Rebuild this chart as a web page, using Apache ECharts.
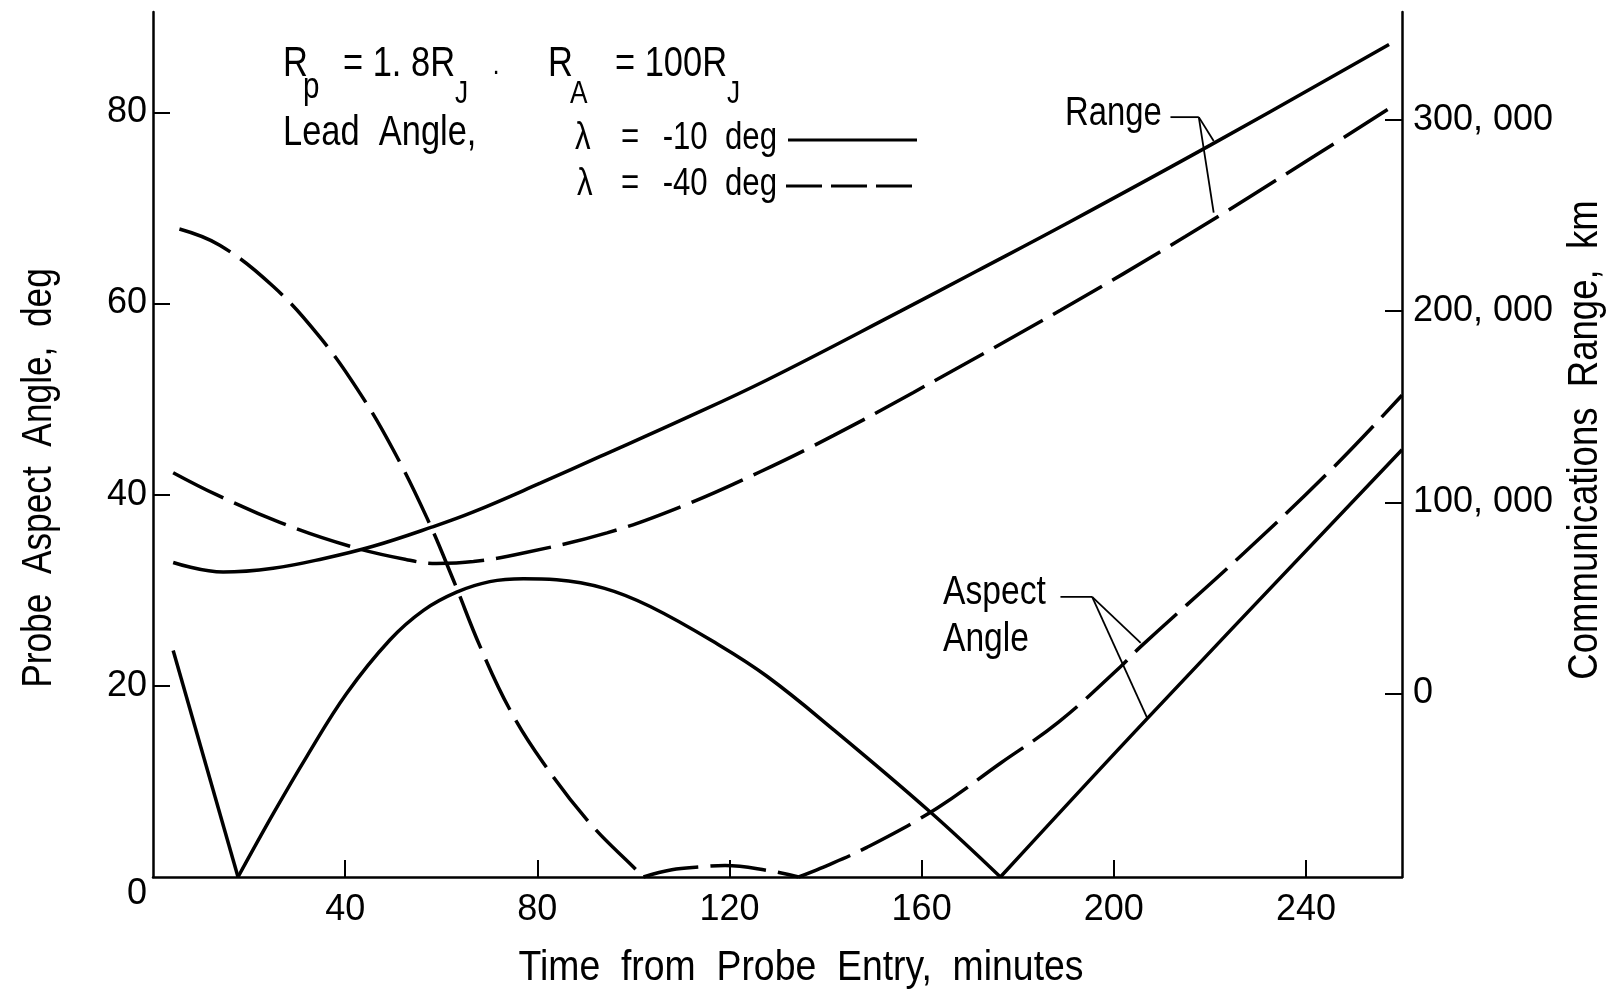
<!DOCTYPE html>
<html>
<head>
<meta charset="utf-8">
<script src="https://cdn.jsdelivr.net/npm/echarts@6/dist/echarts.min.js"></script>
<style>
html,body{margin:0;padding:0;background:#fff;}
#chart{width:1613px;height:996px;}
</style>
</head>
<body>
<div id="chart"></div>
<script>
// ---------- data ----------
// x: time from probe entry, minutes
const xTicks = [40, 80, 120, 160, 200, 240];
const leftTicks = [0, 20, 40, 60, 80];
const rightTicks = [0, 100000, 200000, 300000];

// Probe aspect angle, deg  (lead angle -10 deg, solid)
const aspectM10 = [[4.2,23.7],[17.7,0],[25,6.6],[32,12.6],[40.3,19.2],[49.3,24.8],[56.3,27.9],[63.2,29.8],[70.1,30.9],[77.1,31.2],[84,31.1],[94,30.2],[103.5,28.3],[117.4,24.4],[127.8,21.0],[141.7,15.4],[161.8,6.8],[176.4,0],[207,16.6],[260,44.7]];
const aspectM10Kinks = [17.7, 176.4];

// Probe aspect angle, deg  (lead angle -40 deg, dashed)
const aspectM40 = [[5.5,67.8],[13.9,66.1],[25,61.8],[34.7,56.5],[43.1,50.6],[50,44.7],[57,37.6],[62.5,31.1],[68.1,24.1],[74.3,17.5],[81.3,11.9],[91,5.6],[100.7,0.7],[102.1,0],[108,0.75],[113.9,1.05],[119.1,1.2],[127.8,0.7],[134.4,0],[138.9,0.9],[148.6,3.1],[163.2,7.2],[176.4,11.9],[188.5,16.2],[201.4,22.0],[205.6,24.1],[227.1,33.9],[245.8,42.9],[260,50.4]];
const aspectM40Kinks = [102.1, 134.4];

// Communications range, km  (lead angle -10 deg, solid)
const rangeM10 = [[4.2,68500],[14.6,63500],[25,65500],[35.4,70500],[45.8,77000],[58,87000],[66.7,95000],[80.6,110000],[93.1,124000],[110.4,143500],[127.8,164000],[155.6,200000],[171.5,221000],[190.3,246000],[220.2,287000],[257.3,339500]];

// Communications range, km  (lead angle -40 deg, dashed)
const rangeM40 = [[4.2,115500],[13.2,104000],[26.4,89500],[41,77000],[52.8,70000],[59,68000],[66.7,69000],[77.1,73500],[94.5,84000],[109.7,97500],[126.4,116000],[141.7,135000],[158.3,157500],[188.9,200500],[214.9,239000],[241.7,281000],[257,305500]];

// annotation leader anchors (x minutes, y deg on left axis)
const rangeLeader = { from: [211.8, 79.5], knee: [217.7, 79.5], to: [[220.8, 77.0], [220.8, 69.5]] };
const aspectLeader = { from: [188.9, 29.3], knee: [195.5, 29.3], to: [[205.6, 24.5], [207.0, 16.6]] };

// ---------- styling ----------
const FL = '"Liberation Sans", Arial, sans-serif';
const DASH = [56, 12];
const NARROW = 0.82;

function splitAt(arr, kinks) {
  const segs = [];
  let cur = [];
  arr.forEach(p => {
    cur.push(p);
    if (kinks.indexOf(p[0]) >= 0) { segs.push(cur); cur = [p]; }
  });
  if (cur.length > 1) segs.push(cur);
  return segs;
}

function lineSeries(data, yAxisIndex, dashed) {
  return {
    type: 'line', data: data, xAxisIndex: 0, yAxisIndex: yAxisIndex,
    smooth: data.length > 2 ? 0.4 : false, symbol: 'none', silent: true,
    lineStyle: { color: '#000', width: 3.5, type: dashed ? DASH : 'solid' }
  };
}

const series = [];
splitAt(aspectM10, aspectM10Kinks).forEach(s => series.push(lineSeries(s, 0, false)));
splitAt(aspectM40, aspectM40Kinks).forEach(s => series.push(lineSeries(s, 0, true)));
series.push(lineSeries(rangeM10, 1, false));
series.push(lineSeries(rangeM40, 1, true));

const fmtKm = v => v === 0 ? '0' : (Math.floor(v / 1000) + ', ' + String(v % 1000).padStart(3, '0'));
const TICKFONT = 36;

const option = {
  backgroundColor: '#fff',
  animation: false,
  grid: { left: 153, right: 211, top: 12, bottom: 119, containLabel: false },
  xAxis: {
    type: 'value', min: 0, max: 260,
    axisLine: { show: true, onZero: false, lineStyle: { color: '#000', width: 2.5 } },
    axisTick: { show: true, inside: true, length: 17, customValues: xTicks, lineStyle: { color: '#000', width: 2 } },
    axisLabel: { customValues: xTicks, margin: 15, color: '#000', fontSize: TICKFONT, fontFamily: FL },
    splitLine: { show: false }
  },
  yAxis: [
    {
      type: 'value', min: 0, max: 90.5, position: 'left',
      axisLine: { show: true, lineStyle: { color: '#000', width: 2.5 } },
      axisTick: { show: true, inside: true, length: 17, customValues: [20, 40, 60, 80], lineStyle: { color: '#000', width: 2 } },
      axisLabel: {
        customValues: leftTicks, margin: 6, color: '#000', fontSize: TICKFONT, fontFamily: FL,
        formatter: v => v === 0 ? '{z|0}' : String(v),
        rich: { z: { padding: [34, 0, 0, 0], fontSize: TICKFONT, fontFamily: FL, color: '#000' } }
      },
      splitLine: { show: false }
    },
    {
      type: 'value', min: -96000, max: 356500, position: 'right',
      axisLine: { show: true, lineStyle: { color: '#000', width: 2.5 } },
      axisTick: { show: true, inside: true, length: 17, customValues: rightTicks, lineStyle: { color: '#000', width: 2 } },
      axisLabel: { customValues: rightTicks, margin: 11, color: '#000', fontSize: TICKFONT, fontFamily: FL, formatter: fmtKm },
      splitLine: { show: false }
    }
  ],
  series: series
};

const chart = echarts.init(document.getElementById('chart'), null, { renderer: 'canvas' });
chart.setOption(option);

function px(p) { return chart.convertToPixel({ xAxisIndex: 0, yAxisIndex: 0 }, p); }
function txt(text, x, y, size, opts) {
  opts = opts || {};
  return {
    type: 'text', x: x, y: y, rotation: opts.rotation || 0, silent: true,
    scaleX: opts.sx || NARROW, scaleY: 1,
    style: { text: text, x: 0, y: 0, fill: '#000', font: size + 'px ' + FL,
             align: opts.align || 'left', verticalAlign: 'middle' }
  };
}
function seg(a, b, w) {
  return { type: 'line', silent: true, shape: { x1: a[0], y1: a[1], x2: b[0], y2: b[1] }, style: { stroke: '#000', lineWidth: w || 1.8 } };
}
function leader(L) {
  const f = px(L.from), k = px(L.knee);
  const out = [seg(f, k)];
  L.to.forEach(t => out.push(seg(k, px(t))));
  return out;
}

const graphics = [
  // parameter block
  txt('R', 283, 64, 42), txt('p', 303, 88, 36),
  txt('= 1. 8R', 343, 64, 42), txt('J', 455, 94, 32),
  txt('·', 492, 72, 30),
  txt('R', 548, 64, 42), txt('A', 570, 94, 32),
  txt('= 100R', 615, 64, 42), txt('J', 727, 94, 32),
  txt('Lead  Angle,', 283, 133, 42),
  txt('λ', 575, 139, 38), txt('=', 621, 139, 38), txt('-10  deg', 777, 139, 38, { align: 'right' }),
  txt('λ', 577, 185, 38), txt('=', 621, 185, 38), txt('-40  deg', 777, 185, 38, { align: 'right' }),
  seg([788, 140], [917, 140], 3),
  { type: 'line', silent: true, shape: { x1: 786, y1: 186, x2: 917, y2: 186 }, style: { stroke: '#000', lineWidth: 3, lineDash: [36, 9] } },
  // curve labels
  txt('Range', 1065, 114, 40),
  txt('Aspect', 943, 593, 41),
  txt('Angle', 943, 640, 41),
  // axis titles
  txt('Probe  Aspect  Angle,  deg', 39, 478, 42, { align: 'center', rotation: Math.PI / 2, sx: 0.84 }),
  txt('Communications  Range,  km', 1585, 440, 42, { align: 'center', rotation: Math.PI / 2, sx: 0.87 }),
  txt('Time  from  Probe  Entry,  minutes', 801, 968, 42, { align: 'center', sx: 0.89 })
].concat(leader(rangeLeader), leader(aspectLeader));

chart.setOption({ graphic: { elements: graphics } });
</script>
</body>
</html>
